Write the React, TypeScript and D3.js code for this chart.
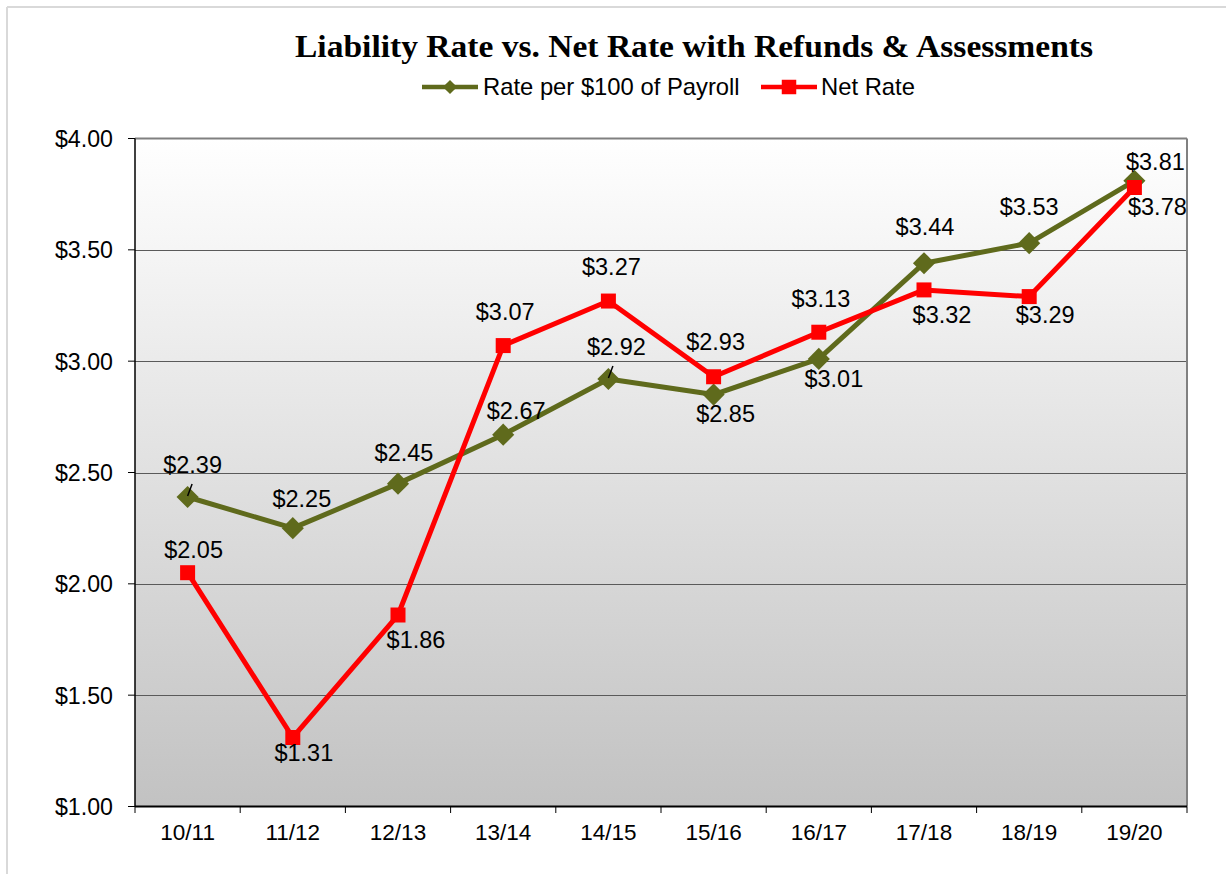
import React from "react";
import * as d3 from "d3";

const categories = ["10/11", "11/12", "12/13", "13/14", "14/15", "15/16", "16/17", "17/18", "18/19", "19/20"];
const ratePerPayroll = [2.39, 2.25, 2.45, 2.67, 2.92, 2.85, 3.01, 3.44, 3.53, 3.81];
const netRate = [2.05, 1.31, 1.86, 3.07, 3.27, 2.93, 3.13, 3.32, 3.29, 3.78];
const yTicks = [1.0, 1.5, 2.0, 2.5, 3.0, 3.5, 4.0];

// label placement (offsets from point, in px)
const rateLabelOffsets: [number, number][] = [
  [5, -24], [9, -21], [6, -23], [13, -16], [8, -24], [12, 27], [15, 28], [1, -28], [0, -28], [21, -11],
];
const netLabelOffsets: [number, number][] = [
  [6, -15], [11, 24], [18, 33], [2, -26], [3, -26], [2, -27], [2, -25], [18, 33], [16, 26], [23, 28],
];

const W = 1226;
const H = 874;
const margin = { left: 135, right: 1187, top: 138.5, bottom: 806.5 };
const GREEN = "#5f6a1c";
const RED = "#ff0000";
const FONT = "'Liberation Sans', Arial, sans-serif";

export default function App() {
  const x = d3.scaleBand<string>().domain(categories).range([margin.left, margin.right]).paddingInner(0).paddingOuter(0);
  const y = d3.scaleLinear().domain([1, 4]).range([margin.bottom, margin.top]);
  const cx = (i: number) => (x(categories[i]) as number) + x.bandwidth() / 2;

  const line = d3.line<number>().x((_, i) => cx(i)).y((d) => y(d));
  const diamond = d3.symbol().type(d3.symbolSquare).size(245)();
  const square = d3.symbol().type(d3.symbolSquare).size(225)();
  const legDiamond = d3.symbol().type(d3.symbolSquare).size(100)();
  const legSquare = d3.symbol().type(d3.symbolSquare).size(210)();
  const fmt = (v: number) => "$" + d3.format(".2f")(v);

  const boundaries = [...categories.map((c) => x(c) as number), margin.right];

  return (
    <svg width={W} height={H} style={{ position: "absolute", left: 0, top: 0, background: "#fff" }} fontFamily={FONT}>
      <defs>
        <linearGradient id="bg" x1="0" y1="0" x2="0" y2="1">
          <stop offset="0%" stopColor="#ffffff" />
          <stop offset="100%" stopColor="#c2c2c2" />
        </linearGradient>
      </defs>
      {/* outer chart border */}
      <line x1={7} y1={7} x2={W} y2={7} stroke="#d9d9d9" strokeWidth={2} />
      <line x1={7} y1={7} x2={7} y2={H} stroke="#d9d9d9" strokeWidth={2} />

      {/* title */}
      <text x={694} y={57} textAnchor="middle" fontFamily="'Liberation Serif', 'DejaVu Serif', serif" fontWeight="bold" fontSize={32} textLength={798} lengthAdjust="spacingAndGlyphs" fill="#000">
        Liability Rate vs. Net Rate with Refunds &amp; Assessments
      </text>

      {/* legend */}
      <g>
        <line x1={422} y1={87} x2={478} y2={87} stroke={GREEN} strokeWidth={4.5} />
        <path d={legDiamond} transform="translate(450,87) rotate(45)" fill={GREEN} />
        <text x={483} y={95} fontSize={23.8} fill="#000">Rate per $100 of Payroll</text>
        <line x1={761} y1={87} x2={817} y2={87} stroke={RED} strokeWidth={4.5} />
        <path d={legSquare} transform="translate(789,87)" fill={RED} />
        <text x={821} y={95} fontSize={23.8} fill="#000">Net Rate</text>
      </g>

      {/* plot background */}
      <rect x={margin.left} y={margin.top} width={margin.right - margin.left} height={margin.bottom - margin.top} fill="url(#bg)" />

      {/* gridlines */}
      {yTicks.slice(1, -1).map((t) => (
        <line key={t} x1={margin.left} x2={margin.right} y1={Math.round(y(t)) + 0.5} y2={Math.round(y(t)) + 0.5} stroke="#5a5a5a" strokeWidth={1} />
      ))}

      {/* plot border top/right */}
      <line x1={margin.left} x2={margin.right} y1={margin.top} y2={margin.top} stroke="#808080" strokeWidth={2} />
      <line x1={margin.right} x2={margin.right} y1={margin.top} y2={margin.bottom} stroke="#808080" strokeWidth={2} />

      {/* y axis */}
      <line x1={margin.left} x2={margin.left} y1={margin.top} y2={margin.bottom} stroke="#000" strokeWidth={1.5} />
      {yTicks.map((t) => (
        <g key={t}>
          <line x1={128} x2={margin.left} y1={y(t)} y2={y(t)} stroke="#000" strokeWidth={1} />
          <text x={113} y={y(t)} dy="0.36em" textAnchor="end" fontSize={23.2} fill="#000">{fmt(t)}</text>
        </g>
      ))}

      {/* x axis */}
      <line x1={margin.left} x2={margin.right} y1={margin.bottom} y2={margin.bottom} stroke="#000" strokeWidth={2} />
      {boundaries.map((b, i) => (
        <line key={i} x1={b} x2={b} y1={margin.bottom} y2={813} stroke="#000" strokeWidth={1} />
      ))}
      {categories.map((c, i) => (
        <text key={c} x={cx(i)} y={839.5} textAnchor="middle" fontSize={22.5} fill="#000">{c}</text>
      ))}

      {/* series lines */}
      <path d={line(ratePerPayroll) as string} fill="none" stroke={GREEN} strokeWidth={5} strokeLinejoin="round" />
      <path d={line(netRate) as string} fill="none" stroke={RED} strokeWidth={5} strokeLinejoin="round" />

      {/* markers */}
      {ratePerPayroll.map((v, i) => (
        <path key={"g" + i} d={diamond} transform={`translate(${cx(i)},${y(v)}) rotate(45)`} fill={GREEN} />
      ))}
      {netRate.map((v, i) => (
        <path key={"r" + i} d={square} transform={`translate(${cx(i)},${y(v)})`} fill={RED} />
      ))}

      {/* leader lines */}
      {[0, 4].map((i) => (
        <line key={"ll" + i} x1={cx(i) + 4.5} y1={y(ratePerPayroll[i]) - 13} x2={cx(i) + 0} y2={y(ratePerPayroll[i]) - 1} stroke="#000" strokeWidth={1.5} />
      ))}

      {/* data labels */}
      {ratePerPayroll.map((v, i) => (
        <text key={"gl" + i} x={cx(i) + rateLabelOffsets[i][0]} y={y(v) + rateLabelOffsets[i][1]} textAnchor="middle" fontSize={23.5} fill="#000">{fmt(v)}</text>
      ))}
      {netRate.map((v, i) => (
        <text key={"rl" + i} x={cx(i) + netLabelOffsets[i][0]} y={y(v) + netLabelOffsets[i][1]} textAnchor="middle" fontSize={23.5} fill="#000">{fmt(v)}</text>
      ))}
    </svg>
  );
}
